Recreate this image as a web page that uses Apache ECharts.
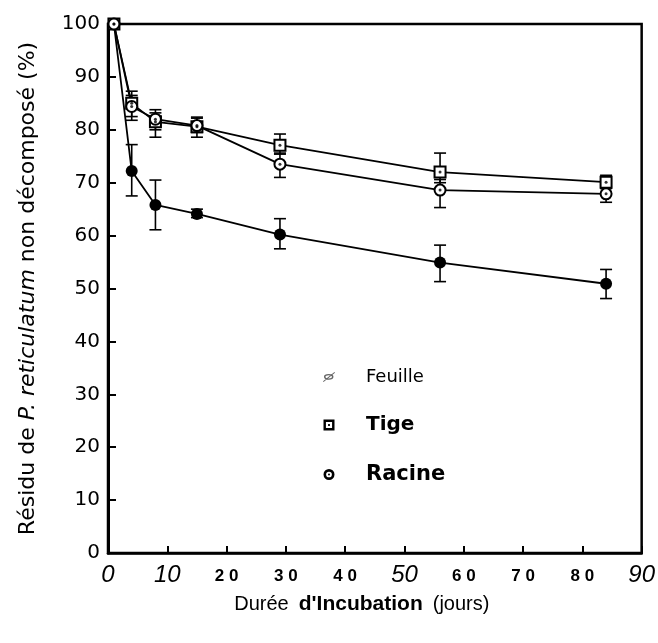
<!DOCTYPE html>
<html>
<head>
<meta charset="utf-8">
<script src="https://cdn.jsdelivr.net/npm/echarts@6/dist/echarts.min.js"></script>
<style>
  html, body { margin: 0; padding: 0; background: #fff; }
  #chart { width: 658px; height: 643px; }
</style>
</head>
<body>
<div id="chart"></div>
<script>
// Incubation days at which residues were weighed
const days = [1, 4, 8, 15, 29, 56, 84];

// Remaining undecomposed residue (%) with error bar bounds
const feuille     = [100, 72.2, 65.8, 64.1, 60.2, 54.9, 50.9];
const feuilleLow  = [100, 67.5, 61.1, 63.4, 57.5, 51.3, 48.1];
const feuilleHigh = [100, 77.2, 70.5, 65.0, 63.2, 58.2, 53.6];

const tige     = [100, 85.0, 81.5, 80.6, 77.1, 72.0, 70.1];
const tigeLow  = [100, 82.5, 78.6, 78.6, 75.4, 70.0, 69.3];
const tigeHigh = [100, 87.3, 83.2, 82.4, 79.2, 75.6, 71.4];

const racine     = [100, 84.4, 82.0, 80.8, 73.5, 68.6, 67.9];
const racineLow  = [100, 81.8, 80.0, 79.5, 71.0, 65.3, 66.3];
const racineHigh = [100, 86.5, 83.8, 82.2, 75.6, 70.6, 68.9];

const italicTicks = [0, 10, 50, 90];

const pts = (ys) => days.map((d, i) => [d, ys[i]]);
const bars = (lo, hi) => days.map((d, i) => [d, lo[i], hi[i]]);

const SANS = 'DejaVu Sans, Verdana, sans-serif';
const ARIAL = 'Liberation Sans, Arial, sans-serif';

// Error bars: vertical whisker with horizontal caps
function errorSeries(lo, hi) {
  return {
    type: 'custom',
    silent: true,
    z: 3,
    data: bars(lo, hi),
    renderItem: function (params, api) {
      const x = api.value(0);
      const a = api.coord([x, api.value(1)]);
      const b = api.coord([x, api.value(2)]);
      if (Math.abs(a[1] - b[1]) < 1) return null;
      const w = 6;
      const st = { stroke: '#000', lineWidth: 1.6 };
      return {
        type: 'group',
        children: [
          { type: 'line', shape: { x1: a[0], y1: a[1], x2: b[0], y2: b[1] }, style: st },
          { type: 'line', shape: { x1: a[0] - w, y1: a[1], x2: a[0] + w, y2: a[1] }, style: st },
          { type: 'line', shape: { x1: b[0] - w, y1: b[1], x2: b[0] + w, y2: b[1] }, style: st }
        ]
      };
    }
  };
}

// Small centre dot drawn inside the hollow markers
function dotSeries(ys) {
  return {
    type: 'scatter', silent: true, z: 6,
    data: pts(ys), symbol: 'circle', symbolSize: 3,
    itemStyle: { color: '#000' }
  };
}

const iconFeuille = 'path://M1,6 A5,3 0 1,1 11,6 A5,3 0 1,1 1,6 Z M2.6,6 A3.4,1.7 0 1,0 9.4,6 A3.4,1.7 0 1,0 2.6,6 Z M0,10.5 L12,1 L12.6,1.8 L0.6,11.3 Z';
const iconTige = 'path://M0,0 L10,0 L10,10 L0,10 Z M2.2,2.2 L2.2,7.8 L7.8,7.8 L7.8,2.2 Z M4.2,4.2 L5.8,4.2 L5.8,5.8 L4.2,5.8 Z';
const iconRacine = 'path://M5,0 A5,5 0 1,1 5,10 A5,5 0 1,1 5,0 Z M5,2.4 A2.6,2.6 0 1,0 5,7.6 A2.6,2.6 0 1,0 5,2.4 Z M5,4.1 A0.9,0.9 0 1,1 5,5.9 A0.9,0.9 0 1,1 5,4.1 Z';

const chart = echarts.init(document.getElementById('chart'), null, { renderer: 'canvas' });

chart.setOption({
  animation: false,
  backgroundColor: '#fff',
  grid: {
    left: 108, right: 16, top: 24, bottom: 90,
    show: true, borderColor: '#000', borderWidth: 2.5
  },
  legend: {
    orient: 'vertical',
    left: 318, top: 363,
    itemGap: 29,
    itemWidth: 12, itemHeight: 11,
    textStyle: { color: '#000', fontFamily: SANS, fontSize: 18, padding: [0, 0, 0, 26] },
    data: [
      { name: 'Feuille', icon: iconFeuille, itemStyle: { color: '#666', borderWidth: 0 } },
      { name: 'Tige', icon: iconTige, itemStyle: { color: '#000', borderWidth: 0 }, textStyle: { fontWeight: 'bold', fontSize: 20 } },
      { name: 'Racine', icon: iconRacine, itemStyle: { color: '#000', borderWidth: 0 }, textStyle: { fontWeight: 'bold', fontSize: 21 } }
    ]
  },
  xAxis: {
    type: 'value', min: 0, max: 90, interval: 10,
    name: '{n|Durée}   {b|d\'Incubation}   {n|(jours)}',
    nameLocation: 'middle', nameGap: 41,
    nameTextStyle: {
      padding: [0, 26, 0, 0],
      rich: {
        n: { fontFamily: ARIAL, fontSize: 20, color: '#000' },
        b: { fontFamily: ARIAL, fontSize: 21, fontWeight: 'bold', color: '#000' }
      }
    },
    axisLine: { lineStyle: { color: '#000', width: 2.5 } },
    axisTick: { inside: true, length: 7, lineStyle: { color: '#000', width: 2 } },
    splitLine: { show: false },
    axisLabel: {
      margin: 10,
      formatter: function (v) {
        if (italicTicks.indexOf(v) >= 0) return '{i|' + v + '}';
        return '{b|' + String(v).split('').join(' ') + '}';
      },
      rich: {
        i: { fontFamily: ARIAL, fontStyle: 'italic', fontSize: 24, color: '#000' },
        b: { fontFamily: ARIAL, fontWeight: 'bold', fontSize: 17, color: '#000', padding: [5, 0, 0, 0] }
      }
    }
  },
  yAxis: {
    type: 'value', min: 0, max: 100, interval: 10,
    name: '{n|Résidu de }{i|P. reticulatum}{n| non décomposé (%)}',
    nameLocation: 'middle', nameGap: 69,
    nameTextStyle: {
      rich: {
        n: { fontFamily: SANS, fontSize: 22, color: '#000' },
        i: { fontFamily: SANS, fontSize: 22, fontStyle: 'italic', color: '#000' }
      }
    },
    axisLine: { lineStyle: { color: '#000', width: 3 } },
    axisTick: { inside: true, length: 8, lineStyle: { color: '#000', width: 2 } },
    splitLine: { show: false },
    axisLabel: {
      margin: 8, color: '#000',
      fontFamily: SANS, fontSize: 20
    }
  },
  series: [
    errorSeries(feuilleLow, feuilleHigh),
    errorSeries(tigeLow, tigeHigh),
    errorSeries(racineLow, racineHigh),
    {
      name: 'Feuille', type: 'line', z: 5,
      data: pts(feuille),
      symbol: 'circle', symbolSize: 12,
      lineStyle: { color: '#000', width: 1.8 },
      itemStyle: { color: '#000' }
    },
    {
      name: 'Tige', type: 'line', z: 5,
      data: pts(tige),
      symbol: 'emptyRect', symbolSize: 11,
      lineStyle: { color: '#000', width: 1.6 },
      itemStyle: { color: '#000', borderColor: '#000', borderWidth: 2.8 }
    },
    {
      name: 'Racine', type: 'line', z: 5,
      data: pts(racine),
      symbol: 'emptyCircle', symbolSize: 11,
      lineStyle: { color: '#000', width: 1.8 },
      itemStyle: { color: '#000', borderColor: '#000', borderWidth: 2.8 }
    },
    dotSeries(tige),
    dotSeries(racine)
  ]
});
</script>
</body>
</html>
